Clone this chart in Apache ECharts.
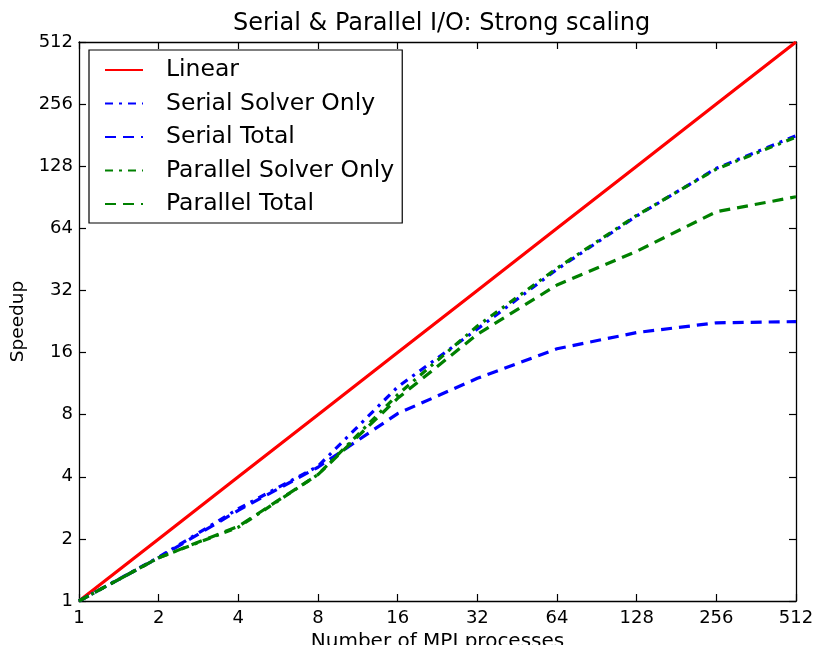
<!DOCTYPE html>
<html>
<head>
<meta charset="utf-8">
<script src="https://cdn.jsdelivr.net/npm/echarts@6/dist/echarts.min.js"></script>
<style>
html,body{margin:0;padding:0;background:#fff;}
#chart{width:817px;height:645px;}
</style>
</head>
<body>
<div id="chart"></div>
<script>
const procs = [1, 2, 4, 8, 16, 32, 64, 128, 256, 512];
const linear = [1, 2, 4, 8, 16, 32, 64, 128, 256, 512];
const serialSolver = [1, 1.63, 2.8, 4.5, 10.9, 20.8, 40.5, 73.5, 125, 180];
const serialTotal = [1, 1.62, 2.75, 4.45, 8.1, 12.0, 16.7, 20.0, 22.3, 22.6];
const parallelSolver = [1, 1.62, 2.28, 4.1, 10.0, 21.5, 41, 74, 124, 177];
const parallelTotal = [1, 1.62, 2.3, 4.1, 9.6, 19.6, 34, 49.5, 77, 91];
const tickLabels = ['1', '2', '4', '8', '16', '32', '64', '128', '256', '512'];

const FONT = 'DejaVu Sans';
const pairs = arr => procs.map((p, i) => [p, arr[i]]);
const fmt = v => { const r = Math.round(v); const s = String(r); return tickLabels.indexOf(s) >= 0 ? s : ''; };

const chart = echarts.init(document.getElementById('chart'), null, {renderer: 'canvas'});

function axisBase(extra) {
  return Object.assign({
    type: 'log', logBase: 2, min: 1, max: 512, interval: 1,
    axisLine: {show: true, onZero: false, lineStyle: {color: '#000', width: 1.3}},
    axisTick: {show: true, inside: true, length: 7, lineStyle: {color: '#000', width: 1.2}},
    splitLine: {show: false},
    minorTick: {show: false}
  }, extra);
}

function mkLine(name, data, color, type) {
  return {
    name: name, type: 'line', data: pairs(data), symbol: 'none',
    lineStyle: {color: color, width: 3.2, type: type},
    itemStyle: {color: color},
    xAxisIndex: 0, yAxisIndex: 0, z: 3
  };
}

const dashDot = [8, 6, 3, 6];
const dashed = [11, 7];

chart.setOption({
  animation: false,
  backgroundColor: '#fff',
  title: {
    text: 'Serial & Parallel I/O: Strong scaling',
    left: 228, top: 7,
    textStyle: {fontFamily: FONT, fontSize: 24, fontWeight: 'normal', color: '#000'}
  },
  grid: {left: 79, right: 21, top: 42, bottom: 44, containLabel: false, outerBoundsMode: 'none'},
  legend: {
    orient: 'vertical', left: 89, top: 50,
    backgroundColor: '#fff', borderColor: '#000', borderWidth: 1.2,
    padding: [8, 8, 7, 15],
    itemWidth: 38, itemHeight: 14, itemGap: 9.5,
    itemStyle: {opacity: 0},
    textStyle: {fontFamily: FONT, fontSize: 23.5, color: '#000', lineHeight: 24, padding: [0, 0, 0, 18]},
    data: ['Linear', 'Serial Solver Only', 'Serial Total', 'Parallel Solver Only', 'Parallel Total']
  },
  xAxis: [
    axisBase({
      position: 'bottom',
      name: 'Number of MPI processes', nameLocation: 'middle', nameGap: 26,
      nameTextStyle: {fontFamily: FONT, fontSize: 20, color: '#000'},
      axisLabel: {fontFamily: FONT, fontSize: 18, color: '#000', margin: 8, formatter: fmt}
    }),
    axisBase({position: 'top', axisLabel: {show: false}})
  ],
  yAxis: [
    axisBase({
      position: 'left',
      name: 'Speedup', nameLocation: 'middle', nameGap: 51, nameRotate: 90,
      nameTextStyle: {fontFamily: FONT, fontSize: 18.5, color: '#000'},
      axisLabel: {fontFamily: FONT, fontSize: 18, color: '#000', margin: 6, formatter: fmt}
    }),
    axisBase({position: 'right', axisLabel: {show: false}})
  ],
  series: [
    mkLine('Linear', linear, '#ff0000', 'solid'),
    mkLine('Serial Solver Only', serialSolver, '#0000ff', dashDot),
    mkLine('Serial Total', serialTotal, '#0000ff', dashed),
    mkLine('Parallel Solver Only', parallelSolver, '#008000', dashDot),
    mkLine('Parallel Total', parallelTotal, '#008000', dashed)
  ]
});
</script>
</body>
</html>
